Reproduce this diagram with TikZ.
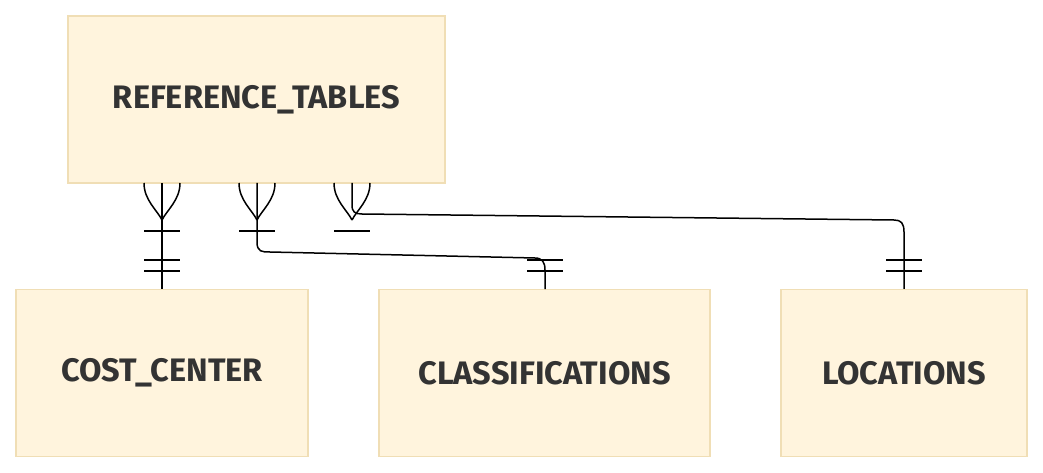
\documentclass[tikz,border=0pt]{standalone}
\usepackage{fontspec}
\setmainfont{Fira Sans}
\begin{document}
\begin{tikzpicture}[x=1pt,y=-1pt,
  ent/.style={draw={rgb,255:red,240;green,222;blue,181},fill={rgb,255:red,255;green,244;blue,221},line width=1.2pt,minimum height=167pt,inner sep=0pt,font=\bfseries\fontsize{32.5}{38}\selectfont,text={rgb,255:red,51;green,51;blue,51}},
  rel/.style={line width=1.5pt,black}]
\useasboundingbox (0,0) rectangle (1043,473);
\node[ent,minimum width=377pt] (ref) at (256.5,99.5) {REFERENCE\_TABLES};
\node[ent,minimum width=292pt] (cc) at (162,373) {COST\_CENTER};
\node[ent,minimum width=331pt] (cl) at (544.5,373) {CLASSIFICATIONS};
\node[ent,minimum width=246pt] (lo) at (904,373) {LOCATIONS};
\def\foot#1{\draw[rel] (#1-18,183) .. controls (#1-18,200) and (#1-5,210) .. (#1,220);
  \draw[rel] (#1+18,183) .. controls (#1+18,200) and (#1+5,210) .. (#1,220);
  \draw[rel] (#1-18,231) -- (#1+18,231);}
\foot{162}\foot{257}\foot{352}
\coordinate (a1) at (162,183); \coordinate (a2) at (257,183); \coordinate (a3) at (352,183);
\draw[rel] (a1) -- (a1 |- cc.north);
\draw[rel] (a2) -- (257,242) .. controls (257,252) and (262,252) .. (270,252) -- (535,258) .. controls (542,258) and (545,262) .. (545,270) -- (545,289);
\draw[rel] (a3) -- (352,205) .. controls (352,212) and (355,214) .. (362,214) -- (894,220) .. controls (901,220) and (904,223) .. (904,232) -- (lo.north);
\foreach \x in {162,545,904}{\draw[rel] (\x-18,260) -- (\x+18,260); \draw[rel] (\x-18,271) -- (\x+18,271);}
\end{tikzpicture}
\end{document}
